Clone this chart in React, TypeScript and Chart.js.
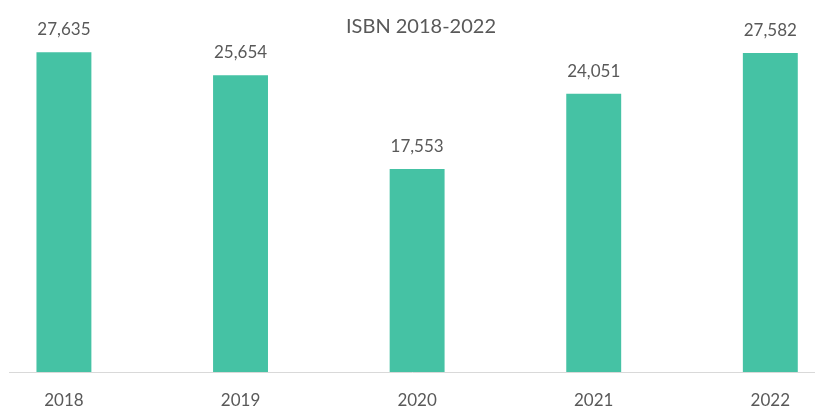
import React, { useEffect, useRef } from 'react';
import { Chart, registerables } from 'chart.js';

Chart.register(...registerables);

const TITLE = 'ISBN 2018-2022';
const YEARS = [2018, 2019, 2020, 2021, 2022];
const ISBN_COUNTS = [27635, 25654, 17553, 24051, 27582];
const X_MIN = 2017.689;
const X_MAX = 2022.253;
const Y_MAX = 30000;

const BAR_COLOR = '#45C2A4';
const TEXT_COLOR = '#595959';
const AXIS_COLOR = '#d9d9d9';
const FONT = 'Lato, "Open Sans", sans-serif';

const valueLabels = {
  id: 'valueLabels',
  afterDatasetsDraw(chart: any) {
    const ctx = chart.ctx;
    const meta = chart.getDatasetMeta(0);
    ctx.save();
    ctx.font = `17px ${FONT}`;
    ctx.fillStyle = TEXT_COLOR;
    ctx.textAlign = 'center';
    ctx.textBaseline = 'alphabetic';
    meta.data.forEach((bar: any, i: number) => {
      ctx.fillText(ISBN_COUNTS[i].toLocaleString('en-US'), bar.x, bar.y - 17);
    });
    ctx.restore();
  },
};

const titleOverlay = {
  id: 'titleOverlay',
  afterDraw(chart: any) {
    const ctx = chart.ctx;
    ctx.save();
    ctx.font = `20px ${FONT}`;
    ctx.fillStyle = TEXT_COLOR;
    ctx.textAlign = 'center';
    ctx.textBaseline = 'alphabetic';
    ctx.fillText(TITLE, 421, 33);
    ctx.restore();
  },
};

export default function App() {
  const canvasRef = useRef<HTMLCanvasElement | null>(null);

  useEffect(() => {
    if (!canvasRef.current) return;
    const chart = new Chart(canvasRef.current, {
      type: 'bar',
      data: {
        datasets: [
          {
            label: TITLE,
            data: YEARS.map((year, i) => ({ x: year, y: ISBN_COUNTS[i] })),
            backgroundColor: BAR_COLOR,
            borderWidth: 0,
            categoryPercentage: 1,
            barPercentage: 0.311,
          },
        ],
      },
      options: {
        animation: false,
        responsive: true,
        maintainAspectRatio: false,
        layout: { padding: { left: 9, top: 25, right: 0, bottom: 0 } },
        plugins: {
          legend: { display: false },
          title: { display: false },
          tooltip: { enabled: false },
        },
        scales: {
          x: {
            type: 'linear',
            min: X_MIN,
            max: X_MAX,
            offset: false,
            grid: { display: false, drawTicks: false },
            border: { display: true, color: AXIS_COLOR, width: 1 },
            afterBuildTicks: (scale: any) => {
              scale.ticks = YEARS.map((v) => ({ value: v }));
            },
            afterFit: (scale: any) => {
              scale.height = 36;
            },
            ticks: {
              color: TEXT_COLOR,
              font: { family: FONT, size: 17 },
              padding: 18,
              maxRotation: 0,
              autoSkip: false,
              callback: (v: any) => String(v),
            },
          },
          y: {
            display: false,
            min: 0,
            max: Y_MAX,
          },
        },
      },
      plugins: [valueLabels, titleOverlay],
    });
    return () => chart.destroy();
  }, []);

  return (
    <div style={{ position: 'fixed', left: 0, top: 0, width: 815, height: 408, background: '#fff' }}>
      <canvas ref={canvasRef} />
    </div>
  );
}
